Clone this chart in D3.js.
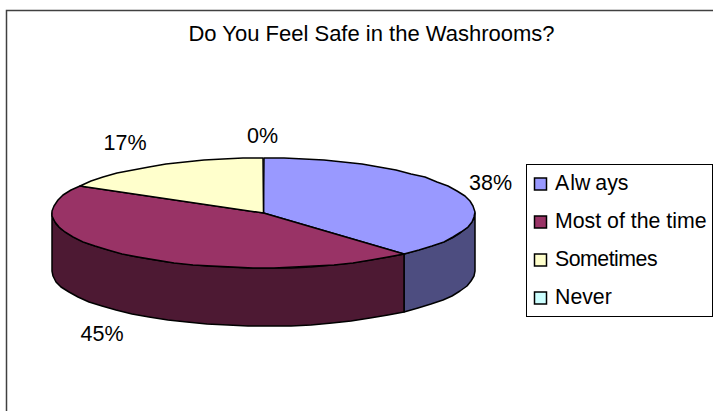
<!DOCTYPE html>
<html>
<head>
<meta charset="utf-8">
<script src="https://cdn.jsdelivr.net/npm/d3@7"></script>
<style>
  html, body { margin: 0; padding: 0; background: #fff; }
  svg { display: block; }
  text { font-family: "Liberation Sans", Arial, sans-serif; fill: #000; }
</style>
</head>
<body>
<div id="chart"></div>
<script>
const categories = ["Always", "Most of the time", "Sometimes", "Never"]
const values = [38.4, 44.9, 16.7, 0]
const topColors = ["#9999ff", "#993366", "#ffffcc", "#ccffff"]
const sideColors = ["#4d4d80", "#4d1933", "#808066", "#668080"]
const labelSpots = [[490.5, 190], [102, 341], [125, 150], [262.5, 143]]
// the original spaces some letters oddly, per character extra gap
const legendGaps = ["0 1 0 5", "0", "0 -.5 -.5 -.5 -.5 -.5 -.5 -.5 -.5", "0"]

const width = 713, height = 411
const cx = 263.5, cy = 213, rx = 211.5, ry = 55, depth = 58

const svg = d3.select("#chart").append("svg")
  .attr("width", width)
  .attr("height", height)

// chart frame, right and bottom sides fall outside the picture
svg.append("path")
  .attr("d", "M6.5,411V10.5H713")
  .attr("fill", "none")
  .attr("stroke", "#404040")
  .attr("stroke-width", 1.5)

svg.append("text")
  .text("Do You Feel Safe in the Washrooms?")
  .attr("x", 371.5).attr("y", 41)
  .attr("text-anchor", "middle")
  .style("font-size", "22px")

const slices = d3.pie().sort(null).startAngle(0).endAngle(2 * Math.PI)(values)

const px = a => cx + rx * Math.sin(a)
const py = a => cy - ry * Math.cos(a)
const rimLine = d3.line()

// points along the rim, the original outline is made of short pieces snapped to whole pixels
function rim(a0, a1, drop) {
  const n = Math.max(1, Math.ceil((a1 - a0) / 0.1))
  return d3.range(n + 1).map(i => {
    const a = a0 + (a1 - a0) * i / n
    return [Math.round(px(a)), Math.round(py(a)) + drop]
  })
}

// side walls, only the front half of the pie shows
const front = slices
  .map((s, i) => ({
    i,
    a0: Math.max(s.startAngle, Math.PI / 2),
    a1: Math.min(s.endAngle, 3 * Math.PI / 2)
  }))
  .filter(d => d.a1 > d.a0)

svg.append("g").selectAll("path")
  .data(front)
  .join("path")
  .attr("d", d => rimLine(rim(d.a0, d.a1, 0).concat(rim(d.a0, d.a1, depth).reverse())) + "Z")
  .attr("fill", d => sideColors[d.i])
  .attr("stroke", "#000")
  .attr("stroke-width", 1.5)
  .attr("stroke-linejoin", "round")

// top faces
svg.append("g").selectAll("path")
  .data(slices.filter(s => s.endAngle > s.startAngle))
  .join("path")
  .attr("d", s => rimLine([[cx, cy]].concat(rim(s.startAngle, s.endAngle, 0))) + "Z")
  .attr("fill", s => topColors[s.index])
  .attr("stroke", "#000")
  .attr("stroke-width", 1.5)
  .attr("stroke-linejoin", "round")

svg.append("g").selectAll("text")
  .data(values)
  .join("text")
  .text(d => Math.round(d) + "%")
  .attr("x", (d, i) => labelSpots[i][0])
  .attr("y", (d, i) => labelSpots[i][1])
  .attr("text-anchor", "middle")
  .style("font-size", "21.5px")

// legend
const legendY = d3.scalePoint().domain(categories).range([184.5, 298.5])

svg.append("rect")
  .attr("x", 526.5).attr("y", 164.5)
  .attr("width", 186).attr("height", 152)
  .attr("fill", "#fff")
  .attr("stroke", "#000")

const legend = svg.append("g").selectAll("g")
  .data(categories)
  .join("g")
  .attr("transform", d => `translate(0,${legendY(d)})`)

legend.append("rect")
  .attr("x", 534.5).attr("y", -6.5)
  .attr("width", 12).attr("height", 12)
  .attr("fill", (d, i) => topColors[i])
  .attr("stroke", "#000")
  .attr("stroke-width", 1.5)

legend.append("text")
  .text(d => d)
  .attr("x", 555).attr("y", 5.5)
  .attr("dx", (d, i) => legendGaps[i])
  .style("font-size", "21.3px")
</script>
</body>
</html>
